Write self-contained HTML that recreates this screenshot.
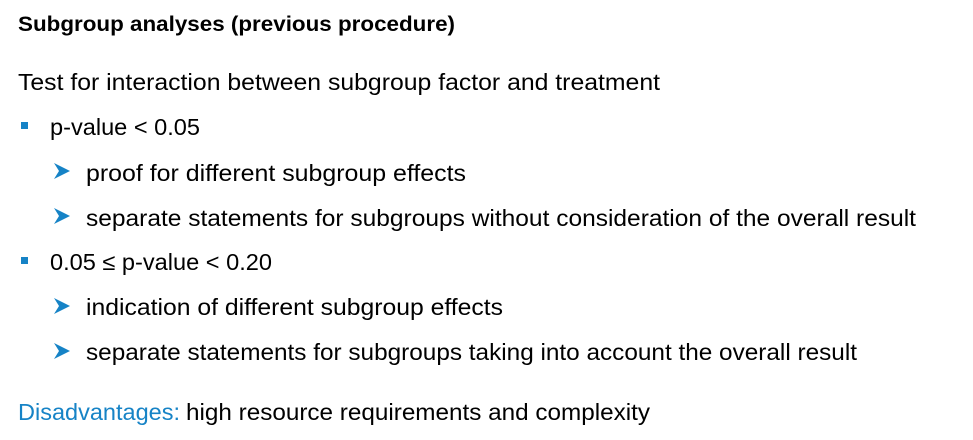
<!DOCTYPE html>
<html><head><meta charset="utf-8"><style>
html,body{margin:0;padding:0;background:#fff;}
svg{display:block;}
text{font-family:"Liberation Sans",sans-serif;fill:#000;}
</style></head><body>
<svg width="973" height="440" viewBox="0 0 973 440">
<text x="18" y="31" font-size="21" font-weight="bold" textLength="437" lengthAdjust="spacingAndGlyphs">Subgroup analyses (previous procedure)</text>
<text x="18" y="90" font-size="23" textLength="642" lengthAdjust="spacingAndGlyphs">Test for interaction between subgroup factor and treatment</text>

<rect x="21" y="122" width="7" height="7" fill="#1683c6"/>
<text x="50" y="135" font-size="23" textLength="150" lengthAdjust="spacingAndGlyphs">p-value &lt; 0.05</text>

<polygon points="54,163 70,171 54,179 59,171" fill="#1683c6"/>
<text x="86" y="181" font-size="23" textLength="380" lengthAdjust="spacingAndGlyphs">proof for different subgroup effects</text>

<polygon points="54,208 70,216 54,224 59,216" fill="#1683c6"/>
<text x="86" y="226" font-size="23" textLength="830" lengthAdjust="spacingAndGlyphs">separate statements for subgroups without consideration of the overall result</text>

<rect x="21" y="257" width="7" height="7" fill="#1683c6"/>
<text x="50" y="270" font-size="23" textLength="222" lengthAdjust="spacingAndGlyphs">0.05 ≤ p-value &lt; 0.20</text>

<polygon points="54,298 70,306 54,314 59,306" fill="#1683c6"/>
<text x="86" y="315" font-size="23" textLength="417" lengthAdjust="spacingAndGlyphs">indication of different subgroup effects</text>

<polygon points="54,343 70,351 54,359 59,351" fill="#1683c6"/>
<text x="86" y="360" font-size="23" textLength="771" lengthAdjust="spacingAndGlyphs">separate statements for subgroups taking into account the overall result</text>

<text x="18" y="420" font-size="23" style="fill:#1683c6" textLength="162" lengthAdjust="spacingAndGlyphs">Disadvantages:</text>
<text x="186" y="420" font-size="23" textLength="464" lengthAdjust="spacingAndGlyphs">high resource requirements and complexity</text>
</svg>
</body></html>
